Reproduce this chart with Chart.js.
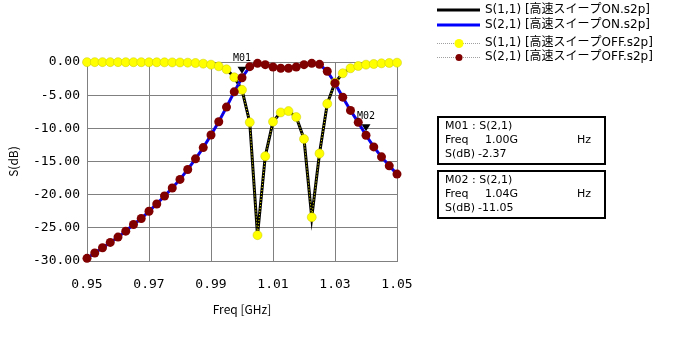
<!DOCTYPE html>
<html>
<head>
<meta charset="utf-8">
<script src="https://cdn.jsdelivr.net/npm/chart.js"></script>
<style>
  body { margin: 0; background: #fff; }
</style>
</head>
<body>
<canvas id="chart" width="673" height="339"></canvas>
<script>
// frequency points (GHz)
const freq = [
  0.95, 0.9525, 0.955, 0.9575, 0.96, 0.9625, 0.965, 0.9675, 0.97, 0.9725,
  0.975, 0.9775, 0.98, 0.9825, 0.985, 0.9875, 0.99, 0.9925, 0.995, 0.9975,
  1.00, 1.0025, 1.005, 1.0075, 1.01, 1.0125, 1.015, 1.0175, 1.02, 1.0225,
  1.025, 1.0275, 1.03, 1.0325, 1.035, 1.0375, 1.04, 1.0425, 1.045, 1.0475, 1.05
];
// S(1,1) dB
const s11 = [
  -0.02, -0.02, -0.02, -0.02, -0.02, -0.03, -0.03, -0.03, -0.04, -0.04,
  -0.05, -0.06, -0.07, -0.1, -0.15, -0.25, -0.4, -0.65, -1.1, -2.3,
  -4.2, -9.1, -26.1, -14.2, -9.0, -7.6, -7.4, -8.3, -11.6, -23.4,
  -13.8, -6.3, -3.1, -1.7, -0.95, -0.6, -0.4, -0.3, -0.2, -0.15, -0.1
];
// S(2,1) dB
const s21 = [
  -29.6, -28.8, -28.0, -27.2, -26.4, -25.5, -24.5, -23.6, -22.5, -21.4,
  -20.2, -19.0, -17.7, -16.2, -14.6, -12.9, -11.0, -9.0, -6.8, -4.5,
  -2.37, -0.7, -0.2, -0.4, -0.75, -0.95, -0.95, -0.75, -0.4, -0.2,
  -0.35, -1.4, -3.2, -5.3, -7.3, -9.1, -11.05, -12.8, -14.3, -15.65, -16.9
];
const seriesNames = [
  'S(1,1) [高速スイープON.s2p]',
  'S(2,1) [高速スイープON.s2p]',
  'S(1,1) [高速スイープOFF.s2p]',
  'S(2,1) [高速スイープOFF.s2p]'
];
const markerNames = ['M01', 'M02'];
const markerTrace = ['S(2,1)', 'S(2,1)'];
const markerFreq = [1.00, 1.04];
const markerDb = [-2.37, -11.05];

const pts = arr => arr.map((v, i) => ({x: freq[i], y: v}));
const sans = '"Noto Sans CJK JP", "Noto Sans", sans-serif';
const wide = '"DejaVu Sans", "Noto Sans CJK JP", sans-serif';
const mono = '"DejaVu Sans Mono", monospace';

const extras = {
  id: 'extras',
  afterDraw(chart) {
    const ctx = chart.ctx;
    const xs = chart.scales.x, ys = chart.scales.y;
    ctx.save();

    // axis titles
    ctx.fillStyle = '#000';
    ctx.font = '12px ' + sans;
    ctx.textAlign = 'center';
    ctx.textBaseline = 'middle';
    ctx.fillText('Freq [GHz]', (xs.left + xs.right) / 2, 309);
    ctx.save();
    ctx.translate(13, (ys.top + ys.bottom) / 2);
    ctx.rotate(-Math.PI / 2);
    ctx.fillText('S(dB)', 0, 0);
    ctx.restore();

    // markers
    markerNames.forEach((name, i) => {
      const px = xs.getPixelForValue(markerFreq[i]);
      const py = ys.getPixelForValue(markerDb[i]);
      const tip = py - 4;
      ctx.fillStyle = '#000';
      ctx.beginPath();
      ctx.moveTo(px, tip);
      ctx.lineTo(px - 4.5, tip - 7);
      ctx.lineTo(px + 4.5, tip - 7);
      ctx.closePath();
      ctx.fill();
      ctx.font = '10px ' + mono;
      ctx.textAlign = 'center';
      ctx.fillText(name, px, tip - 15);
    });

    // legend
    const rows = [10, 25, 43, 57];
    ctx.textAlign = 'left';
    ctx.font = '12px ' + wide;
    rows.forEach((y, i) => {
      ctx.save();
      if (i < 2) {
        ctx.strokeStyle = i === 0 ? '#000' : '#0000ff';
        ctx.lineWidth = 3;
        ctx.beginPath(); ctx.moveTo(437, y); ctx.lineTo(480, y); ctx.stroke();
      } else {
        ctx.strokeStyle = '#a0a0a0';
        ctx.lineWidth = 1;
        ctx.setLineDash([1, 1]);
        ctx.beginPath(); ctx.moveTo(437, y + 0.5); ctx.lineTo(480, y + 0.5); ctx.stroke();
        ctx.fillStyle = i === 2 ? '#ffff00' : '#800000';
        ctx.beginPath(); ctx.arc(459, y + 0.5, i === 2 ? 4.5 : 3.5, 0, Math.PI * 2); ctx.fill();
      }
      ctx.restore();
      ctx.fillStyle = '#000';
      ctx.fillText(seriesNames[i], 485, y);
    });

    // marker boxes
    markerNames.forEach((name, i) => {
      const top = 117 + i * 54;
      ctx.strokeStyle = '#000';
      ctx.lineWidth = 2;
      ctx.strokeRect(438, top, 167, 47);
      ctx.fillStyle = '#000';
      ctx.font = '11px ' + wide;
      ctx.textAlign = 'left';
      ctx.fillText(name + ' : ' + markerTrace[i], 445, top + 9);
      ctx.fillText('Freq', 445, top + 23);
      ctx.fillText(markerFreq[i].toFixed(2) + 'G', 485, top + 23);
      ctx.fillText('Hz', 577, top + 23);
      ctx.fillText('S(dB)', 445, top + 37);
      ctx.fillText(markerDb[i].toFixed(2), 478, top + 37);
    });
    ctx.restore();
  }
};

new Chart(document.getElementById('chart').getContext('2d'), {
  type: 'line',
  data: {
    datasets: [
      {
        label: seriesNames[3], data: pts(s21), order: 0,
        borderColor: '#800000', borderWidth: 1, borderDash: [1, 2],
        pointRadius: 4.5, pointBackgroundColor: '#800000', pointBorderWidth: 0,
        clip: false
      },
      {
        label: seriesNames[2], data: pts(s11), order: 1,
        borderColor: '#ffff00', borderWidth: 1, borderDash: [1, 2],
        pointRadius: 4.5, pointBackgroundColor: '#ffff00',
        pointBorderColor: '#c8c800', pointBorderWidth: 0.5,
        clip: false
      },
      {
        label: seriesNames[1], data: pts(s21), order: 2,
        borderColor: '#0000ff', borderWidth: 3, pointRadius: 0, clip: false
      },
      {
        label: seriesNames[0], data: pts(s11), order: 3,
        borderColor: '#000000', borderWidth: 3, pointRadius: 0, clip: false
      }
    ]
  },
  options: {
    responsive: false,
    animation: false,
    events: [],
    layout: { padding: { left: 0, right: 276, top: 62, bottom: 0 } },
    plugins: { legend: { display: false }, tooltip: { enabled: false } },
    scales: {
      x: {
        type: 'linear', min: 0.95, max: 1.05,
        afterFit: s => { s.height = 78; },
        grid: { color: '#808080', drawTicks: false },
        border: { color: '#808080' },
        ticks: {
          stepSize: 0.02, padding: 16, color: '#000',
          font: { family: 'DejaVu Sans Mono', size: 13 },
          callback: v => v.toFixed(2)
        }
      },
      y: {
        type: 'linear', min: -30, max: 0,
        afterFit: s => { s.width = 87; },
        grid: { color: '#808080', drawTicks: false },
        border: { color: '#808080' },
        ticks: {
          stepSize: 5, padding: 7, color: '#000',
          font: { family: 'DejaVu Sans Mono', size: 13 },
          callback: v => v.toFixed(2)
        }
      }
    }
  },
  plugins: [extras]
});
</script>
</body>
</html>
